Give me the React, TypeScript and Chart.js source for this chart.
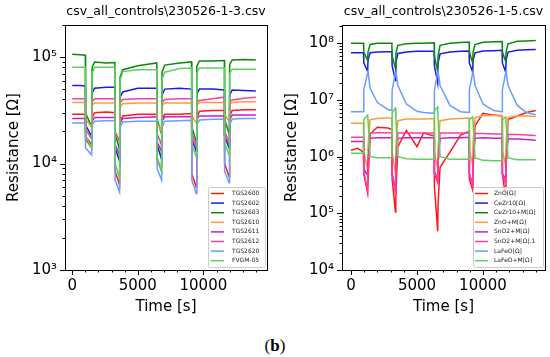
import React, { useEffect, useRef } from 'react';
import { Chart, registerables } from 'chart.js';
Chart.register(...registerables);

const FONT = 'DejaVu Sans';

// ---------- Left panel data ----------
const leftTitle = 'csv_all_controls\\230526-1-3.csv';
const leftLabels = ['TGS2600', 'TGS2602', 'TGS2603', 'TGS2610', 'TGS2611', 'TGS2612', 'TGS2620', 'FVGM-05'];
const timeLeft = [0, 600, 1000, 1020, 1480, 1520, 1700, 2600, 3250, 3270, 3610, 3650, 3850, 5000, 6450, 6470, 6810, 6850, 7050, 8200, 9100, 9120, 9460, 9500, 9700, 10700, 11600, 11620, 11960, 12000, 12200, 13100, 14000];
const tgs2600 = [2.9e4, 2.9e4, 2.9e4, 1.7e4, 1.4e4, 2.7e4, 3.0e4, 3.05e4, 3.0e4, 8.5e3, 6.3e3, 2.5e4, 2.8e4, 2.9e4, 2.9e4, 1.1e4, 8.5e3, 2.6e4, 2.9e4, 2.9e4, 2.95e4, 8e3, 6.0e3, 2.7e4, 3.1e4, 3.15e4, 3.15e4, 1.0e4, 7.5e3, 2.8e4, 3.15e4, 3.2e4, 3.2e4];
const tgs2602 = [5.4e4, 5.4e4, 5.35e4, 2.3e4, 1.8e4, 4.6e4, 5.1e4, 5.2e4, 5.2e4, 1.4e4, 1.05e4, 4.2e4, 4.7e4, 5.1e4, 5.1e4, 1.5e4, 1.1e4, 4.4e4, 5.0e4, 5.1e4, 5.0e4, 1.7e4, 1.3e4, 4.5e4, 5.0e4, 5.0e4, 4.9e4, 1.8e4, 1.4e4, 4.4e4, 4.9e4, 4.85e4, 4.8e4];
const tgs2603 = [1.06e5, 1.05e5, 1.04e5, 3.0e4, 2.2e4, 8.0e4, 9.0e4, 8.8e4, 8.9e4, 1.9e4, 1.35e4, 6.5e4, 7.6e4, 8.3e4, 8.8e4, 2.6e4, 1.9e4, 7.2e4, 8.4e4, 8.8e4, 9.0e4, 2.2e4, 1.6e4, 8.2e4, 9.2e4, 9.2e4, 9.3e4, 2.6e4, 1.9e4, 8.5e4, 9.4e4, 9.5e4, 9.4e4];
const tgs2610 = [3.75e4, 3.75e4, 3.75e4, 2.6e4, 2.2e4, 3.5e4, 3.7e4, 3.7e4, 3.7e4, 2.0e4, 1.6e4, 3.4e4, 3.65e4, 3.7e4, 3.7e4, 2.4e4, 2.0e4, 3.5e4, 3.7e4, 3.7e4, 3.7e4, 2.8e4, 2.4e4, 3.5e4, 3.75e4, 3.75e4, 3.75e4, 2.9e4, 2.5e4, 3.6e4, 3.75e4, 3.8e4, 3.8e4];
const tgs2611 = [2.65e4, 2.65e4, 2.65e4, 1.8e4, 1.5e4, 2.5e4, 2.7e4, 2.7e4, 2.7e4, 1.5e4, 1.2e4, 2.4e4, 2.65e4, 2.7e4, 2.75e4, 1.6e4, 1.3e4, 2.5e4, 2.75e4, 2.75e4, 2.75e4, 1.7e4, 1.4e4, 2.6e4, 2.8e4, 2.8e4, 2.8e4, 1.8e4, 1.5e4, 2.6e4, 2.85e4, 2.85e4, 2.85e4];
const tgs2612 = [4.05e4, 4.05e4, 4.05e4, 2.1e4, 1.7e4, 3.8e4, 4.05e4, 4.05e4, 4.05e4, 2.0e4, 1.6e4, 3.7e4, 4.0e4, 4.05e4, 4.05e4, 1.9e4, 1.5e4, 3.7e4, 4.0e4, 4.05e4, 4.05e4, 1.9e4, 1.5e4, 3.8e4, 3.9e4, 4.05e4, 4.2e4, 2.0e4, 1.6e4, 3.8e4, 3.95e4, 4.1e4, 4.2e4];
const tgs2620 = [2.4e4, 2.4e4, 2.4e4, 1.4e4, 1.2e4, 2.3e4, 2.5e4, 2.52e4, 2.52e4, 7e3, 5.4e3, 2.2e4, 2.45e4, 2.5e4, 2.5e4, 9e3, 7.0e3, 2.2e4, 2.5e4, 2.52e4, 2.55e4, 7e3, 5.2e3, 2.3e4, 2.57e4, 2.6e4, 2.6e4, 8.5e3, 6.6e3, 2.3e4, 2.62e4, 2.65e4, 2.65e4];
const fvgm05 = [8.0e4, 8.0e4, 8.0e4, 1.8e4, 1.4e4, 7.0e4, 8.0e4, 8.0e4, 8.0e4, 1.0e4, 7.3e3, 6.0e4, 7.3e4, 7.6e4, 7.6e4, 1.15e4, 8.6e3, 6.2e4, 7.2e4, 7.8e4, 7.9e4, 1.5e4, 1.15e4, 7.0e4, 7.9e4, 7.9e4, 7.9e4, 1.55e4, 1.2e4, 7.0e4, 7.7e4, 7.7e4, 7.7e4];

// ---------- Right panel data ----------
const rightTitle = 'csv_all_controls\\230526-1-5.csv';
const rightLabels = ['ZnO[Ω]', 'CeZr10[Ω]', 'CeZr10+M[Ω]', 'ZnO+M[Ω]', 'SnO2+M[Ω]', 'SnO2+M[Ω].1', 'LaFeO[Ω]', 'LaFeO+M[Ω]'];
const timeRight = [0, 500, 950, 970, 1260, 1290, 1450, 2000, 2800, 3100, 3120, 3370, 3400, 3550, 4200, 5000, 5500, 6300, 6320, 6570, 6600, 6750, 7500, 8300, 8950, 8970, 9220, 9250, 9400, 10000, 10800, 11450, 11470, 11720, 11750, 11900, 12600, 13300, 14000];
const zno = [1.3e6, 1.4e6, 1.2e6, 5e5, 2.3e5, 3.5e5, 2.5e6, 3.3e6, 3.2e6, 3.0e6, 4e5, 1.05e5, 2e5, 1.5e6, 2.9e6, 1.5e6, 2.6e6, 2.3e6, 3e5, 4.8e4, 1.5e5, 6.5e5, 1.2e6, 2.4e6, 2.8e6, 4e5, 2.6e5, 6e5, 3.5e6, 5.8e6, 5.4e6, 5.2e6, 5e5, 1.9e5, 6e5, 4.5e6, 5.2e6, 6.0e6, 6.5e6];
const cezr10 = [6.8e7, 6.8e7, 6.8e7, 4.5e7, 3.2e7, 5e7, 6.8e7, 7.0e7, 7.1e7, 7.1e7, 4e7, 2.2e7, 4.5e7, 6.6e7, 7.0e7, 7.2e7, 7.2e7, 7.2e7, 4e7, 2.0e7, 4.5e7, 6.5e7, 7.0e7, 7.2e7, 7.3e7, 4.5e7, 3.1e7, 5e7, 6.8e7, 7.3e7, 7.4e7, 7.5e7, 4.5e7, 3.1e7, 5e7, 7.0e7, 7.5e7, 7.7e7, 7.8e7];
const cezr10m = [1.0e8, 1.0e8, 1.0e8, 7e7, 5.0e7, 7e7, 9.5e7, 1.0e8, 1.0e8, 1.0e8, 6e7, 3.6e7, 6.5e7, 9.2e7, 9.8e7, 1.0e8, 1.0e8, 1.02e8, 6e7, 3.2e7, 6e7, 9.2e7, 1.0e8, 1.03e8, 1.05e8, 7e7, 4.5e7, 7e7, 9.5e7, 1.04e8, 1.06e8, 1.07e8, 7e7, 4.8e7, 7e7, 9.8e7, 1.08e8, 1.1e8, 1.12e8];
const znom = [3.9e6, 3.9e6, 3.9e6, 1.2e6, 6e5, 1.5e6, 4.5e6, 4.7e6, 4.8e6, 4.8e6, 1.2e6, 5e5, 1.5e6, 4.3e6, 4.6e6, 4.6e6, 4.6e6, 4.7e6, 1.2e6, 6e5, 1.5e6, 4.3e6, 4.6e6, 4.7e6, 4.8e6, 1.3e6, 7e5, 1.8e6, 4.9e6, 5.3e6, 5.3e6, 5.3e6, 1.3e6, 7e5, 1.8e6, 4.9e6, 5.2e6, 5.2e6, 5.1e6];
const sno2m = [1.85e6, 1.85e6, 1.85e6, 6e5, 4.7e5, 8e5, 2.1e6, 2.15e6, 2.15e6, 2.15e6, 5e5, 2.7e5, 7e5, 2.1e6, 2.15e6, 2.15e6, 2.15e6, 2.15e6, 5.5e5, 3.8e5, 8e5, 2.1e6, 2.15e6, 2.15e6, 2.2e6, 5e5, 3.2e5, 8e5, 2.1e6, 2.15e6, 2.1e6, 2.1e6, 5e5, 4e5, 8e5, 2.05e6, 2.05e6, 2.0e6, 1.95e6];
const sno2m1 = [2.2e6, 2.2e6, 2.2e6, 5.5e5, 2.5e5, 6e5, 2.6e6, 2.65e6, 2.65e6, 2.65e6, 5e5, 2.2e5, 6e5, 2.6e6, 2.6e6, 2.6e6, 2.6e6, 2.6e6, 5e5, 3.4e5, 7e5, 2.6e6, 2.6e6, 2.6e6, 2.6e6, 5e5, 3.0e5, 7e5, 2.55e6, 2.55e6, 2.5e6, 2.5e6, 5e5, 3.3e5, 7e5, 2.45e6, 2.45e6, 2.4e6, 2.35e6];
const lafeo = [6.2e6, 6.2e6, 6.2e6, 1.5e7, 3.0e7, 3.2e7, 1.6e7, 9e6, 6.8e6, 6.5e6, 1.5e7, 3.0e7, 3.2e7, 1.8e7, 8.5e6, 6.3e6, 6.0e6, 5.8e6, 1.5e7, 3.0e7, 3.2e7, 1.8e7, 8e6, 6.2e6, 6.0e6, 1.5e7, 3.0e7, 3.2e7, 1.8e7, 8.5e6, 6.5e6, 6.2e6, 1.5e7, 3.0e7, 3.2e7, 1.8e7, 8e6, 6e6, 5.5e6];
const lafeom = [1.15e6, 1.15e6, 1.15e6, 4.5e6, 5.4e6, 4.5e6, 1.0e6, 9.6e5, 9.6e5, 9.6e5, 6e6, 7.2e6, 5e6, 1.0e6, 9.2e5, 9.0e5, 9.0e5, 9.0e5, 6.5e6, 7.5e6, 5e6, 1.0e6, 9.0e5, 9.0e5, 9.0e5, 4.5e6, 5.0e6, 4e6, 9.5e5, 8.6e5, 8.5e5, 8.5e5, 4.5e6, 5.0e6, 4e6, 9.5e5, 8.8e5, 8.8e5, 8.8e5];

// ---------- Axes ticks ----------
const xMajorTicks = [0, 5000, 10000];
const leftYMajor = [1e3, 1e4, 1e5];
const rightYMajor = [1e4, 1e5, 1e6, 1e7, 1e8];

const seriesColors = ['#ff1a1a', '#1a1aee', '#0d880d', '#ff9a3c', '#c81ec8', '#ff3c9c', '#6a9dff', '#5cd25c'];

const SUP: Record<string, string> = { '0': '⁰', '1': '¹', '2': '²', '3': '³', '4': '⁴', '5': '⁵', '6': '⁶', '7': '⁷', '8': '⁸', '9': '⁹', '-': '⁻' };
const powLabel = (v: number) => {
  const e = Math.round(Math.log10(v));
  return '10' + String(e).split('').map((c) => SUP[c]).join('');
};

const decorPlugin = {
  id: 'decor',
  afterDraw(chart: any, _args: any, opts: any) {
    const ctx = chart.ctx;
    const { left, right, top, bottom } = chart.chartArea;
    const xs = chart.scales.x;
    const ys = chart.scales.y;
    ctx.save();
    ctx.strokeStyle = '#000';
    ctx.lineWidth = 1;
    const lo = Math.floor(Math.log10(ys.min));
    const hi = Math.ceil(Math.log10(ys.max));
    for (let d = lo; d <= hi; d++) {
      for (let m = 1; m <= 9; m++) {
        const v = m * Math.pow(10, d);
        if (v < ys.min * 0.999 || v > ys.max) continue;
        const y = Math.round(ys.getPixelForValue(v)) + 0.5;
        const len = m === 1 ? 5 : 2.5;
        ctx.beginPath();
        ctx.moveTo(left, y);
        ctx.lineTo(left - len, y);
        ctx.stroke();
      }
    }
    for (let v = Math.ceil(xs.min / 1000) * 1000; v <= xs.max; v += 1000) {
      const x = Math.round(xs.getPixelForValue(v)) + 0.5;
      const len = v % 5000 === 0 ? 5 : 2.5;
      ctx.beginPath();
      ctx.moveTo(x, bottom);
      ctx.lineTo(x, bottom + len);
      ctx.stroke();
    }
    ctx.strokeRect(Math.round(left) + 0.5, Math.round(top) + 0.5, Math.round(right - left), Math.round(bottom - top));
    ctx.fillStyle = '#000';
    ctx.font = `12.5px "${FONT}"`;
    ctx.textAlign = 'center';
    ctx.textBaseline = 'middle';
    ctx.fillText(opts.title, (left + right) / 2, top - 13);
    const lg = opts.legend;
    const bx = right - lg.width - 2;
    const by = bottom - 83;
    const bh = 80;
    ctx.fillStyle = 'rgba(255,255,255,0.85)';
    ctx.strokeStyle = '#cccccc';
    ctx.lineWidth = 1;
    ctx.beginPath();
    if (ctx.roundRect) ctx.roundRect(bx + 0.5, by + 0.5, lg.width, bh, 2);
    else ctx.rect(bx + 0.5, by + 0.5, lg.width, bh);
    ctx.fill();
    ctx.stroke();
    ctx.font = `6px "${FONT}"`;
    ctx.textAlign = 'left';
    ctx.textBaseline = 'middle';
    const ds = chart.data.datasets;
    for (let i = 0; i < ds.length; i++) {
      const y = by + 6.5 + i * 9.6;
      ctx.strokeStyle = ds[i].borderColor;
      ctx.lineWidth = 1.5;
      ctx.beginPath();
      ctx.moveTo(bx + lg.lineStart, y);
      ctx.lineTo(bx + lg.lineStart + 13, y);
      ctx.stroke();
      ctx.fillStyle = '#222';
      ctx.fillText(ds[i].label, bx + lg.textStart, y);
    }
    ctx.restore();
  },
};

type PanelCfg = {
  left: number;
  title: string;
  labels: string[];
  time: number[];
  series: number[][];
  xMin: number;
  xMax: number;
  yMin: number;
  yMax: number;
  yMajor: number[];
  yAxisWidth: number;
  yTitlePad: number;
  padRight: number;
  legend: { width: number; lineStart: number; textStart: number };
};

function Panel({ cfg }: { cfg: PanelCfg }) {
  const ref = useRef<HTMLCanvasElement>(null);
  useEffect(() => {
    const n = cfg.series.length;
    const chart = new Chart(ref.current as HTMLCanvasElement, {
      type: 'line',
      data: {
        datasets: cfg.series.map((s, i) => ({
          label: cfg.labels[i],
          data: cfg.time.map((t, j) => ({ x: t, y: s[j] })),
          borderColor: seriesColors[i],
          backgroundColor: seriesColors[i],
          borderWidth: 1.5,
          pointRadius: 0,
          tension: 0,
          fill: false,
          order: n - i,
        })),
      },
      options: {
        animation: false,
        responsive: false,
        maintainAspectRatio: false,
        layout: { padding: { top: 25, right: cfg.padRight, left: 0, bottom: 0 } },
        plugins: {
          legend: { display: false },
          tooltip: { enabled: false },
          title: { display: false },
          decor: { title: cfg.title, legend: cfg.legend },
        } as any,
        scales: {
          x: {
            type: 'linear',
            min: cfg.xMin,
            max: cfg.xMax,
            afterBuildTicks: (s: any) => {
              s.ticks = xMajorTicks.map((v) => ({ value: v }));
            },
            afterFit: (s: any) => {
              s.height = 46;
            },
            grid: { display: false, drawTicks: false },
            border: { display: false },
            ticks: {
              padding: 7,
              autoSkip: false,
              maxRotation: 0,
              color: '#000',
              font: { family: FONT, size: 15 },
              callback: (v: any) => String(v),
            },
            title: { display: true, text: 'Time [s]', color: '#000', font: { family: FONT, size: 15 }, padding: 0 },
          },
          y: {
            type: 'logarithmic',
            min: cfg.yMin,
            max: cfg.yMax,
            afterBuildTicks: (s: any) => {
              s.ticks = cfg.yMajor.map((v) => ({ value: v }));
            },
            afterFit: (s: any) => {
              s.width = cfg.yAxisWidth;
            },
            grid: { display: false, drawTicks: false },
            border: { display: false },
            ticks: {
              padding: 8,
              autoSkip: false,
              color: '#000',
              font: { family: FONT, size: 15 },
              callback: (v: any) => powLabel(Number(v)),
            },
            title: {
              display: true,
              text: 'Resistance [Ω]',
              color: '#000',
              font: { family: FONT, size: 15 },
              padding: { top: cfg.yTitlePad, bottom: 0 },
            },
          },
        } as any,
      },
      plugins: [decorPlugin],
    });
    return () => chart.destroy();
  }, []);
  return (
    <canvas
      ref={ref}
      width={275}
      height={316}
      style={{ position: 'absolute', left: cfg.left, top: 0, width: 275, height: 316 }}
    />
  );
}

const leftCfg: PanelCfg = {
  left: 0,
  title: leftTitle,
  labels: leftLabels,
  time: timeLeft,
  series: [tgs2600, tgs2602, tgs2603, tgs2610, tgs2611, tgs2612, tgs2620, fvgm05],
  xMin: -550,
  xMax: 14850,
  yMin: 1e3,
  yMax: 2e5,
  yMajor: leftYMajor,
  yAxisWidth: 65,
  yTitlePad: 5,
  padRight: 8,
  legend: { width: 57, lineStart: 3, textStart: 24 },
};

const rightCfg: PanelCfg = {
  left: 275,
  title: rightTitle,
  labels: rightLabels,
  time: timeRight,
  series: [zno, cezr10, cezr10m, znom, sno2m, sno2m1, lafeo, lafeom],
  xMin: -680,
  xMax: 14700,
  yMin: 1e4,
  yMax: 2.1e8,
  yMajor: rightYMajor,
  yAxisWidth: 67,
  yTitlePad: 8,
  padRight: 5,
  legend: { width: 70, lineStart: 2, textStart: 21 },
};

export default function App() {
  return (
    <div style={{ position: 'absolute', left: 0, top: 0, width: 550, height: 357, background: '#fff', overflow: 'hidden' }}>
      <Panel cfg={leftCfg} />
      <Panel cfg={rightCfg} />
      <div
        style={{
          position: 'absolute',
          left: 0,
          top: 337,
          width: 550,
          textAlign: 'center',
          fontFamily: '"Liberation Serif", serif',
          fontSize: 17,
          lineHeight: '18px',
          color: '#000',
        }}
      >
        (<b>b</b>)
      </div>
    </div>
  );
}
